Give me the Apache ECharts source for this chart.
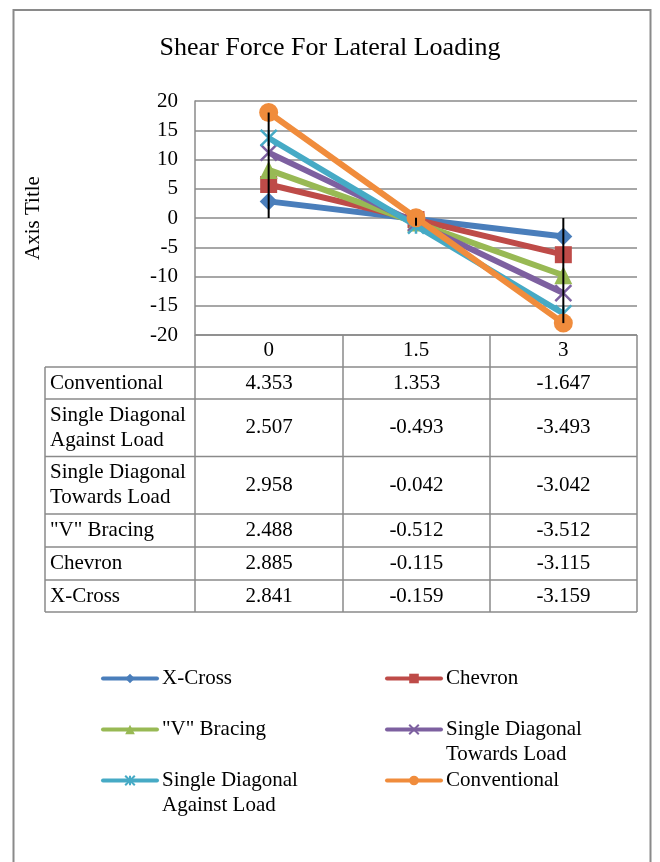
<!DOCTYPE html>
<html>
<head>
<meta charset="utf-8">
<title>Shear Force For Lateral Loading</title>
<script src="https://cdn.jsdelivr.net/npm/echarts@6/dist/echarts.min.js"></script>
<style>
  html, body { margin: 0; padding: 0; background: #fff; }
  #chart { width: 660px; height: 862px; }
</style>
</head>
<body>
<div id="chart"></div>
<script>
// Storey positions along the frame
const categories = ['0', '1.5', '3'];

// Shear force per bracing system (stacked on the chart, listed raw in the table)
const xCross = [2.841, -0.159, -3.159];
const chevron = [2.885, -0.115, -3.115];
const vBracing = [2.488, -0.512, -3.512];
const towardsLoad = [2.958, -0.042, -3.042];
const againstLoad = [2.507, -0.493, -3.493];
const conventional = [4.353, 1.353, -1.647];

const seriesNames = ['X-Cross', 'Chevron', '"V" Bracing',
  'Single Diagonal Towards Load', 'Single Diagonal Against Load', 'Conventional'];
const seriesValues = [xCross, chevron, vBracing, towardsLoad, againstLoad, conventional];

// Value axis range
const yMin = -20;
const yMax = 20;
const yStep = 5;

// Table rows are listed top to bottom
const tableOrder = [5, 4, 3, 2, 1, 0];
const tableLabels = ['Conventional', 'Single Diagonal\nAgainst Load', 'Single Diagonal\nTowards Load',
  '"V" Bracing', 'Chevron', 'X-Cross'];

const FONT = '"Liberation Serif", "Times New Roman", serif';
const GRID_COLOR = '#8a8a8a';
const colors = ['#4A7EBB', '#BE4B48', '#98B954', '#7D60A0', '#46AAC5', '#F08C3C'];
const symbols = ['diamond', 'rect', 'triangle',
  'path://M0,0L10,10M10,0L0,10',
  'path://M0,0L10,10M10,0L0,10M5,0L5,10',
  'circle'];
const symbolSizes = [18, 17, 18, 16, 16, 19];

// Drop lines: from zero to the outermost stacked value at each storey
const dropLines = categories.map((_, i) => {
  let sum = 0, lo = 0, hi = 0;
  seriesValues.forEach(arr => {
    sum += arr[i];
    lo = Math.min(lo, sum);
    hi = Math.max(hi, sum);
  });
  return [i, lo, hi];
});

const chart = echarts.init(document.getElementById('chart'), null, { renderer: 'canvas' });

const lineSeries = seriesNames.map((name, k) => {
  const isCross = k === 3 || k === 4;
  return {
    name: name,
    type: 'line',
    stack: 'shear',
    stackStrategy: 'all',
    data: seriesValues[k],
    symbol: symbols[k],
    symbolSize: symbolSizes[k],
    showAllSymbol: true,
    z: 2 + k * 0.1,
    lineStyle: { color: colors[k], width: 6 },
    itemStyle: isCross
      ? { color: colors[k], borderColor: colors[k], borderWidth: 2.5 }
      : { color: colors[k], borderWidth: 0 },
    emphasis: { disabled: true },
    animation: false
  };
});

const dropSeries = {
  name: 'drop',
  type: 'custom',
  z: 10,
  data: dropLines,
  encode: { x: 0, y: [1, 2] },
  renderItem: function (params, api) {
    const a = api.coord([api.value(0), api.value(1)]);
    const b = api.coord([api.value(0), api.value(2)]);
    return {
      type: 'line',
      shape: { x1: a[0], y1: a[1], x2: b[0], y2: b[1] },
      style: { stroke: '#000', lineWidth: 2 }
    };
  },
  silent: true,
  animation: false
};

// Legend in two columns, one component per entry
const legendSlots = [
  [101, 678], [385, 678],
  [101, 729], [385, 729],
  [101, 780], [385, 780]
];
const legendLines = ['X-Cross', 'Chevron', '"V" Bracing',
  'Single Diagonal\nTowards Load', 'Single Diagonal\nAgainst Load', 'Conventional'];
const ITEM_H = 12;
const legends = seriesNames.map((name, k) => ({
  data: [name],
  left: legendSlots[k][0],
  top: legendSlots[k][1] - ITEM_H / 2 - 4,
  padding: 0,
  itemWidth: 54,
  itemHeight: ITEM_H,
  selectedMode: false,
  lineStyle: { width: 4, cap: 'round' },
  formatter: () => legendLines[k].split('\n')[0],
  textStyle: { fontFamily: FONT, fontSize: 21, color: '#000' }
}));

// Graphic: outer frame, data table grid and texts, wrapped legend lines
const graphics = [];
graphics.push({
  type: 'rect',
  shape: { x: 13.5, y: 10, width: 637, height: 880 },
  style: { fill: 'none', stroke: GRID_COLOR, lineWidth: 2 },
  silent: true
});

const colX = [195, 343, 490, 637];
const tableLeft = 45;
const headerTop = 335;
const headerBottom = 367;
const rowHeights = [32, 57.5, 57.5, 33, 33, 32];
const rowTops = [];
let yCursor = headerBottom;
rowHeights.forEach(h => { rowTops.push(yCursor); yCursor += h; });
const tableBottom = yCursor;

function hLine(x1, x2, y) {
  graphics.push({ type: 'line', shape: { x1: x1, y1: y, x2: x2, y2: y },
    style: { stroke: GRID_COLOR, lineWidth: 1.5 }, silent: true });
}
function vLine(x, y1, y2) {
  graphics.push({ type: 'line', shape: { x1: x, y1: y1, x2: x, y2: y2 },
    style: { stroke: GRID_COLOR, lineWidth: 1.5 }, silent: true });
}
// header row around the axis labels
colX.forEach(x => vLine(x, headerTop, headerBottom));
hLine(colX[0], colX[3], headerTop);
// body rows
hLine(tableLeft, colX[3], headerBottom);
rowTops.forEach((t, r) => hLine(tableLeft, colX[3], t + rowHeights[r]));
vLine(tableLeft, headerBottom, tableBottom);
colX.forEach(x => vLine(x, headerBottom, tableBottom));

tableOrder.forEach((sIdx, r) => {
  const cy = rowTops[r] + rowHeights[r] / 2;
  graphics.push({
    type: 'text',
    silent: true,
    style: { text: tableLabels[r], x: 50, y: cy, align: 'left', verticalAlign: 'middle',
      font: '21px ' + FONT, fill: '#000', lineHeight: 25 }
  });
  seriesValues[sIdx].forEach((v, c) => {
    graphics.push({
      type: 'text',
      silent: true,
      style: { text: v.toFixed(3), x: (colX[c] + colX[c + 1]) / 2, y: cy,
        align: 'center', verticalAlign: 'middle', font: '21px ' + FONT, fill: '#000' }
    });
  });
});

// second lines of the wrapped legend entries
legendLines.forEach((txt, k) => {
  const parts = txt.split('\n');
  if (parts.length > 1) {
    graphics.push({
      type: 'text',
      silent: true,
      style: { text: parts[1], x: legendSlots[k][0] + 61, y: legendSlots[k][1] + 25,
        align: 'left', verticalAlign: 'middle', font: '21px ' + FONT, fill: '#000' }
    });
  }
});

chart.setOption({
  backgroundColor: '#fff',
  animation: false,
  title: {
    text: 'Shear Force For Lateral Loading',
    left: 'center',
    top: 30,
    textStyle: { fontFamily: FONT, fontSize: 26, fontWeight: 'normal', color: '#000' }
  },
  legend: legends,
  grid: { left: 195, right: 23, top: 101, bottom: 527, containLabel: false },
  xAxis: {
    type: 'category',
    data: categories,
    boundaryGap: true,
    axisLine: { show: false, onZero: false },
    axisTick: { show: false },
    splitLine: { show: false },
    axisLabel: { margin: 5, fontFamily: FONT, fontSize: 21, color: '#000' }
  },
  yAxis: {
    type: 'value',
    min: yMin,
    max: yMax,
    interval: yStep,
    name: 'Axis Title',
    nameLocation: 'middle',
    nameRotate: 90,
    nameGap: 151,
    nameTextStyle: { fontFamily: FONT, fontSize: 21, color: '#000' },
    axisLine: { show: true, lineStyle: { color: GRID_COLOR, width: 1.5 } },
    axisTick: { show: false },
    splitLine: { show: true, lineStyle: { color: GRID_COLOR, width: 1.5 } },
    axisLabel: { margin: 17, fontFamily: FONT, fontSize: 21, color: '#000' }
  },
  graphic: graphics,
  series: lineSeries.concat([dropSeries])
});
</script>
</body>
</html>
